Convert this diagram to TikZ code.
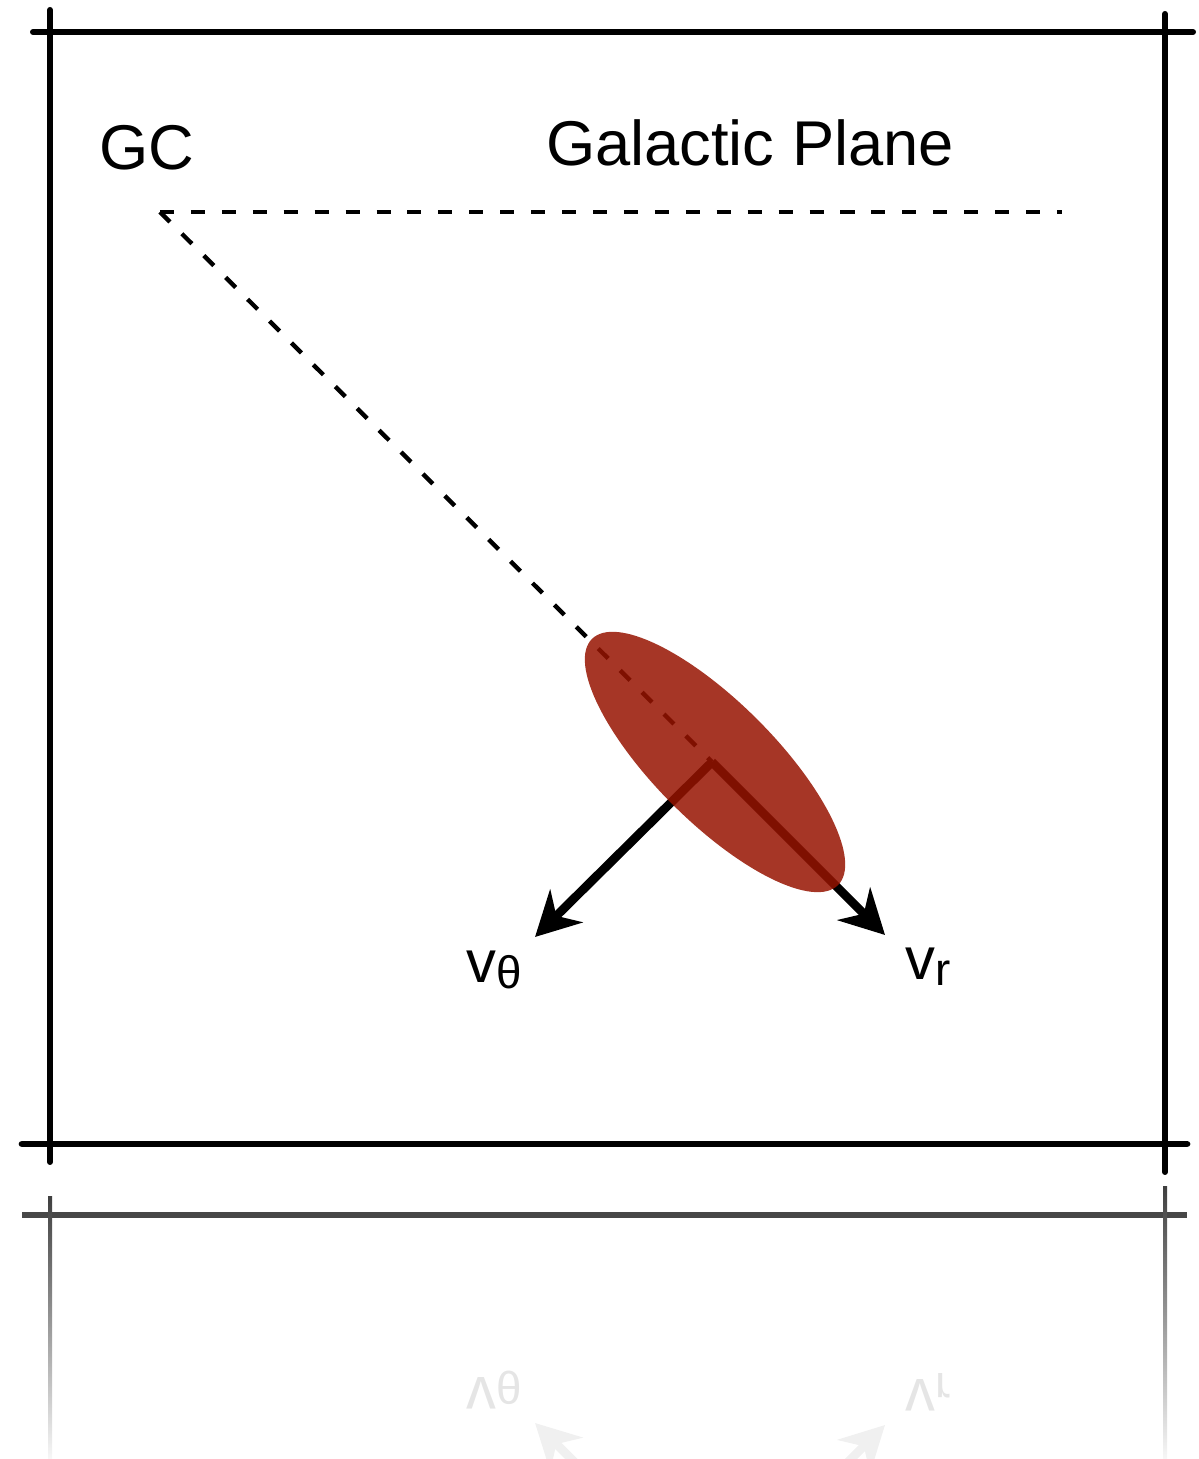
\documentclass[tikz,border=0pt]{standalone}
\usepackage{fontspec}
\setmainfont{Liberation Sans}
\usetikzlibrary{arrows.meta}

\definecolor{clumpred}{RGB}{150,19,0}

\begin{document}
\begin{tikzpicture}[
  frameline/.style={line width=1.7pt, line cap=round},
  planeline/.style={line width=1.25pt, dash pattern=on 4pt off 4.8pt},
  velarrow/.style={line width=2.5pt, -{Stealth[length=4.4mm,width=4.6mm,inset=1.4mm]}},
  bigtext/.style={font=\fontsize{18}{21}\selectfont, inner sep=0pt},
  veltext/.style={font=\fontsize{17}{20}\selectfont, inner sep=0pt},
]
\useasboundingbox (0,0) rectangle (11.99,14.59);
\clip (0,0) rectangle (11.99,14.59);

% Frame
\draw[frameline] (0.33,14.27) -- (11.93,14.27);
\draw[frameline] (0.50,14.49) -- (0.50,2.97);
\draw[frameline] (11.65,14.45) -- (11.65,2.87);
\draw[frameline, line width=1.9pt] (0.22,3.15) -- (11.87,3.15);

% Points
\coordinate (GC) at (1.60,12.47);
\coordinate (planeend) at (10.62,12.47);
\coordinate (clump) at (7.12,6.97);
\coordinate (vrtip) at (8.85,5.24);
\coordinate (vthtip) at (5.35,5.22);

% Galactic plane and line of sight
\draw[planeline] (GC) -- (planeend);
\draw[planeline] (GC) -- (clump);

% Velocity arrows
\draw[velarrow] (clump) -- (vrtip);
\draw[velarrow] (clump) -- (vthtip);

% Clump
\fill[clumpred, opacity=0.85, rotate around={-45:(7.15,6.97)}] (7.15,6.97) ellipse (1.74 and 0.6);

% Labels
\node[bigtext] (gclabel) at (1.47,13.11) {GC};
\node[bigtext] (planelabel) at (7.50,13.16) {Galactic Plane};
\node[veltext] (vthlabel) at (4.94,4.89) {v\raisebox{-0.2ex}{\fontsize{13}{15}\selectfont θ}};
\node[veltext] (vrlabel) at (9.28,4.92) {v\raisebox{-0.2ex}{\fontsize{13}{15}\selectfont r}};

% Reflection
\draw[line width=1.9pt, black!72] (0.22,2.44) -- (11.87,2.44);
\shade[top color=black!75, bottom color=black!3] (0.48,0) rectangle (0.52,2.62);
\shade[top color=black!75, bottom color=black!3] (11.63,0) rectangle (11.67,2.72);
\node[veltext, text=black!10, yscale=-1, transform shape] (vthmirror) at (4.94,0.69) {v\raisebox{-0.2ex}{\fontsize{13}{15}\selectfont θ}};
\node[veltext, text=black!10, yscale=-1, transform shape] (vrmirror) at (9.28,0.67) {v\raisebox{-0.2ex}{\fontsize{13}{15}\selectfont r}};
\coordinate (clumpmirror) at (7.12,-1.39);
\coordinate (vrmirrortip) at (8.85,0.34);
\coordinate (vthmirrortip) at (5.35,0.36);
\draw[velarrow, black!6] (clumpmirror) -- (vrmirrortip);
\draw[velarrow, black!6] (clumpmirror) -- (vthmirrortip);

\end{tikzpicture}
\end{document}
